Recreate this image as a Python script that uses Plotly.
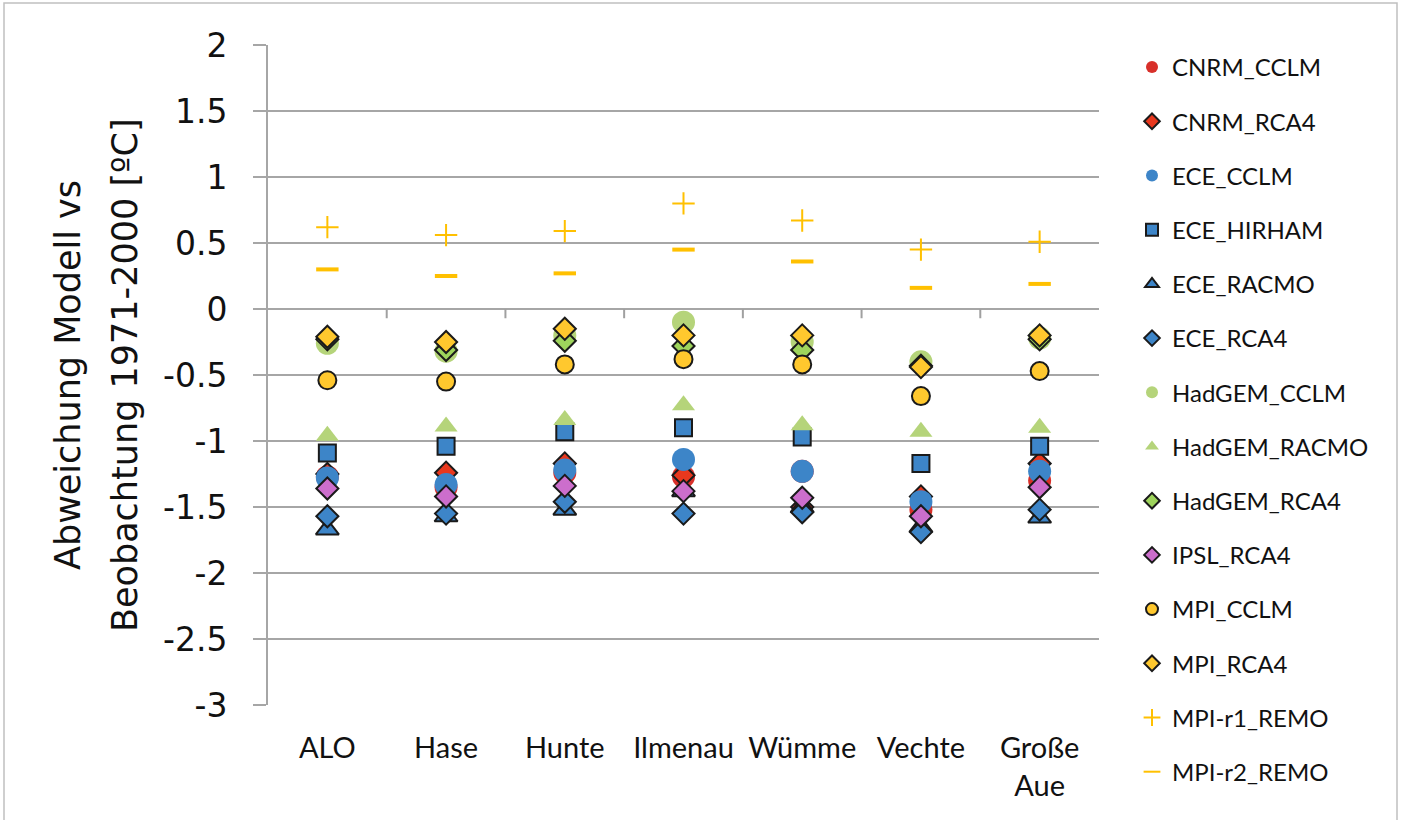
import plotly.graph_objects as go

# Rivers (x categories) and their tick labels
categories = ["ALO", "Hase", "Hunte", "Ilmenau", "Wümme", "Vechte", "Große Aue"]
tick_labels = ["ALO", "Hase", "Hunte", "Ilmenau", "Wümme", "Vechte", "Große<br>Aue"]

# Deviation model vs observation 1971-2000 [°C] per model chain
cnrm_cclm = [-1.27, -1.35, -1.24, -1.27, -1.23, -1.52, -1.30]
cnrm_rca4 = [-1.25, -1.24, -1.17, -1.26, -1.50, -1.42, -1.17]
ece_cclm = [-1.28, -1.33, -1.22, -1.14, -1.23, -1.46, -1.23]
ece_hirham = [-1.09, -1.04, -0.93, -0.90, -0.97, -1.17, -1.04]
ece_racmo = [-1.67, -1.57, -1.52, -1.38, -1.50, -1.65, -1.58]
ece_rca4 = [-1.57, -1.55, -1.46, -1.55, -1.54, -1.69, -1.52]
hadgem_cclm = [-0.26, -0.32, -0.20, -0.10, -0.25, -0.40, -0.22]
hadgem_racmo = [-0.96, -0.89, -0.84, -0.73, -0.88, -0.93, -0.90]
hadgem_rca4 = [-0.23, -0.31, -0.24, -0.28, -0.31, -0.43, -0.23]
ipsl_rca4 = [-1.36, -1.42, -1.34, -1.38, -1.43, -1.57, -1.35]
mpi_cclm = [-0.54, -0.55, -0.42, -0.38, -0.42, -0.66, -0.47]
mpi_rca4 = [-0.21, -0.25, -0.15, -0.20, -0.20, -0.44, -0.20]
mpi_r1_remo = [0.62, 0.56, 0.59, 0.80, 0.67, 0.45, 0.51]
mpi_r2_remo = [0.30, 0.25, 0.27, 0.45, 0.36, 0.16, 0.19]

y_ticks = [2, 1.5, 1, 0.5, 0, -0.5, -1, -1.5, -2, -2.5, -3]
y_tick_text = ["2", "1.5", "1", "0.5", "0", "-0.5", "-1", "-1.5", "-2", "-2.5", "-3"]

RED = "#D8302A"
RED2 = "#E8381E"
BLUE = "#3D85C8"
GREEN = "#B5D47A"
GREEN2 = "#9ED45C"
PINK = "#CC6ECC"
YELLOW = "#FFC82E"
ORANGE = "#FFC000"
EDGE = "#1a1a1a"

# (name, values, symbol, size, fill, outline color, outline width)
series = [
    ("CNRM_CCLM", cnrm_cclm, "circle", 23, RED, RED, 0),
    ("CNRM_RCA4", cnrm_rca4, "diamond", 17, RED2, EDGE, 2),
    ("ECE_CCLM", ece_cclm, "circle", 23, BLUE, BLUE, 0),
    ("ECE_HIRHAM", ece_hirham, "square", 17, BLUE, EDGE, 2),
    ("ECE_RACMO", ece_racmo, "triangle-up", 20, BLUE, EDGE, 2),
    ("ECE_RCA4", ece_rca4, "diamond", 17, BLUE, EDGE, 2),
    ("HadGEM_CCLM", hadgem_cclm, "circle", 23, GREEN, GREEN, 0),
    ("HadGEM_RACMO", hadgem_racmo, "triangle-up", 20, GREEN, GREEN, 0),
    ("HadGEM_RCA4", hadgem_rca4, "diamond", 17, GREEN2, EDGE, 2),
    ("IPSL_RCA4", ipsl_rca4, "diamond", 17, PINK, EDGE, 2),
    ("MPI_CCLM", mpi_cclm, "circle", 18, YELLOW, EDGE, 2),
    ("MPI_RCA4", mpi_rca4, "diamond", 17, YELLOW, EDGE, 2),
    ("MPI-r1_REMO", mpi_r1_remo, "cross-thin", 16, ORANGE, ORANGE, 2),
    ("MPI-r2_REMO", mpi_r2_remo, "line-ew", 16, ORANGE, ORANGE, 4),
]

fig = go.Figure()
for i, (name, vals, sym, size, fill, lc, lw) in enumerate(series):
    fig.add_trace(go.Scatter(
        x=categories, y=vals, mode="markers", name=name,
        legendgroup=f"g{i}",
        marker=dict(symbol=sym, size=size, color=fill,
                    line=dict(color=lc, width=lw)),
    ))

# Plot area in pixels: left 268, right 1099, top 45, bottom 705
PL, PR, PT, PB = 268, 1099, 45, 705
W, H = 1404, 820
pw, ph = PR - PL, PB - PT

def px_x(p):
    return (p - PL) / pw

def px_y(p):
    return (PB - p) / ph

shapes = []
# small category-boundary ticks on the zero line
for b in range(len(categories) - 1):
    shapes.append(dict(type="line", xref="x", yref="y", x0=b + 0.5, x1=b + 0.5,
                       y0=0, y1=-0.07, line=dict(color="#A0A0A0", width=2)))
# outer chart frame
shapes.append(dict(type="rect", xref="paper", yref="paper",
                   x0=px_x(4), x1=px_x(1397), y0=px_y(830), y1=px_y(3),
                   line=dict(color="#C0C0C0", width=1.5), layer="below"))

title_font = dict(family="DejaVu Sans", size=35, color="#111")

fig.update_layout(
    width=W, height=H,
    margin=dict(l=PL, r=W - PR, t=PT, b=H - PB),
    paper_bgcolor="white", plot_bgcolor="white",
    showlegend=True,
    legend=dict(x=px_x(1132), y=px_y(45), xanchor="left", yanchor="top",
                font=dict(family="Lato", size=24, color="#111"),
                itemsizing="constant", tracegroupgap=20, maxheight=800,
                bgcolor="rgba(0,0,0,0)"),
    shapes=shapes,
    annotations=[
        dict(text="Abweichung Modell vs",
             xref="paper", yref="paper", x=px_x(68), y=0.5,
             xanchor="center", yanchor="middle", textangle=-90,
             showarrow=False, font=title_font),
        dict(text="Beobachtung 1971-2000 [ºC]",
             xref="paper", yref="paper", x=px_x(125), y=0.5,
             xanchor="center", yanchor="middle", textangle=-90,
             showarrow=False, font=title_font),
    ],
)

fig.update_xaxes(
    type="category", categoryorder="array", categoryarray=categories,
    range=[-0.5, len(categories) - 0.5],
    tickvals=categories, ticktext=tick_labels,
    showgrid=False, showline=False, ticks="", zeroline=False,
    ticklabelstandoff=23,
    tickfont=dict(family="Lato", size=29, color="#111"),
)
fig.update_yaxes(
    range=[-3, 2], tickvals=y_ticks, ticktext=y_tick_text,
    showgrid=True, gridcolor="#A6A6A6", gridwidth=2,
    zeroline=False, showline=True, linecolor="#A6A6A6", linewidth=2,
    ticks="outside", ticklen=13, tickcolor="#A6A6A6", tickwidth=2,
    ticklabelstandoff=19,
    tickfont=dict(family="DejaVu Sans", size=33, color="#111"),
)

fig.write_html("out.html")
